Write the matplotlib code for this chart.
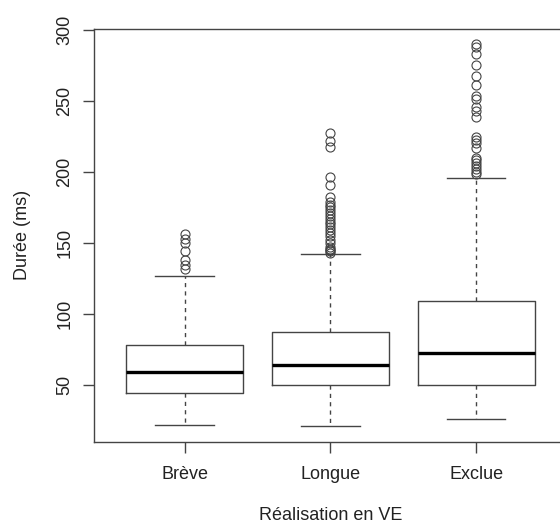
import matplotlib
matplotlib.use("Agg")
from matplotlib import pyplot as plt

plt.rcParams['font.family'] = ['Liberation Sans', 'DejaVu Sans']

# categories and box statistics (ms)
categories = ["Brève", "Longue", "Exclue"]
whislo = [21.9, 21.4, 26.1]
q1 = [44.1, 50.0, 50.0]
med = [59.4, 64.0, 72.2]
q3 = [78.1, 87.0, 109.0]
whishi = [126.8, 142.0, 195.8]

out_breve = [131.3, 134.3, 137.8, 144.0, 150.0, 153.0, 156.5]
out_longue = [143, 144, 145, 146, 147, 150, 152, 155, 157, 159, 161, 163, 165,
              167, 169, 171, 173, 175, 177, 179, 182, 190.4, 196.3, 217.4, 222, 227.5]
out_exclue = [198.7, 200, 202, 204, 206, 208, 210, 217, 220, 222.5, 224.4,
              238.4, 243.1, 245.4, 251.4, 253.7, 261.2, 267.7, 275.4, 283, 287.7, 290]
outliers = [out_breve, out_longue, out_exclue]

yticks = [50, 100, 150, 200, 250, 300]

stats = []
for i, name in enumerate(categories):
    stats.append({"label": name, "whislo": whislo[i], "q1": q1[i], "med": med[i],
                  "q3": q3[i], "whishi": whishi[i], "fliers": outliers[i]})

lc = "#444444"
tc = "#222222"

fig = plt.figure(figsize=(5.6, 5.27), dpi=100)
ax = fig.add_axes([0.168, 0.162, 0.844, 0.783])

ax.bxp(stats, positions=[1, 2, 3], widths=0.8, showfliers=True,
       boxprops=dict(color=lc, linewidth=1.0),
       medianprops=dict(color="black", linewidth=2.4, solid_capstyle="butt"),
       whiskerprops=dict(color=lc, linewidth=1.0, linestyle=(0, (3, 3))),
       capprops=dict(color=lc, linewidth=1.0),
       capwidths=0.4,
       flierprops=dict(marker="o", markersize=6.5, markerfacecolor="none",
                       markeredgecolor=lc, markeredgewidth=0.8))

ax.set_xlim(0.38, 3.62)
ax.set_ylim(10.2, 300.5)
ax.set_yticks(yticks)
ax.set_yticklabels([str(v) for v in yticks], rotation=90, va="center")
ax.set_xticks([1, 2, 3])
ax.set_xticklabels(categories)
ax.tick_params(axis="both", length=8, width=1, color=lc, labelsize=13,
               labelcolor=tc)
ax.tick_params(axis="x", pad=9.5)
ax.tick_params(axis="y", pad=7)
for s in ax.spines.values():
    s.set_color(lc)
    s.set_linewidth(1.0)

ax.set_xlabel("Réalisation en VE", fontsize=13, color=tc, labelpad=17)
ax.set_ylabel("Durée (ms)", fontsize=13, color=tc, labelpad=18)

fig.savefig("out.png", dpi=100)
